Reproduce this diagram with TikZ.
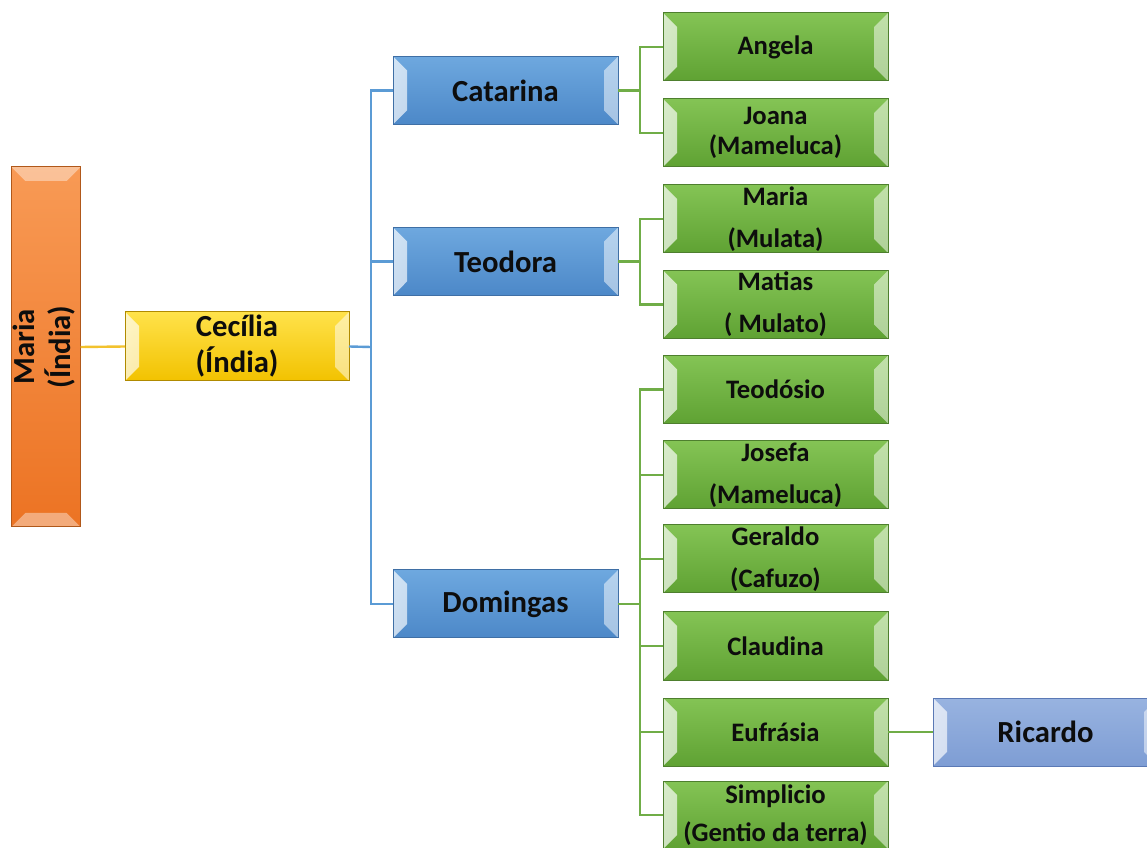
\documentclass[tikz,border=0pt]{standalone}
\usepackage{fontspec}
\setmainfont{Carlito}
\usepackage{graphicx}
\usetikzlibrary{fadings}
\newlength\pxu \setlength\pxu{0.75pt}
\definecolor{bluetop}{HTML}{6EA8DF}
\definecolor{bluebot}{HTML}{4C88C8}
\definecolor{blueln}{HTML}{3F6FA5}
\definecolor{greentop}{HTML}{84C455}
\definecolor{greenbot}{HTML}{5FA233}
\definecolor{greenln}{HTML}{4E7F2E}
\definecolor{yeltop}{HTML}{FFE24A}
\definecolor{yelbot}{HTML}{F2C200}
\definecolor{yelln}{HTML}{B08A00}
\definecolor{ortop}{HTML}{F89A55}
\definecolor{orbot}{HTML}{EC7323}
\definecolor{orln}{HTML}{B0581A}
\definecolor{ricktop}{HTML}{98B3E0}
\definecolor{rickbot}{HTML}{7E9DD4}
\definecolor{rickln}{HTML}{5B79B5}
\definecolor{conyel}{HTML}{F2C22E}
\definecolor{conblue}{HTML}{5B9BD5}
\definecolor{congreen}{HTML}{70AD47}
\definecolor{txt}{HTML}{0D0D0D}
\begin{document}
\begin{tikzpicture}[x=0.75pt,y=-0.75pt,
  hbevel/.style={path picture={
    \fill[white,opacity=0.7,path fading=east] (path picture bounding box.north west) -- ([shift={(14\pxu,-14\pxu)}]path picture bounding box.north west) -- ([shift={(14\pxu,14\pxu)}]path picture bounding box.south west) -- (path picture bounding box.south west) -- cycle;
    \fill[white,opacity=0.5] (path picture bounding box.north east) -- ([shift={(-14\pxu,-14\pxu)}]path picture bounding box.north east) -- ([shift={(-14\pxu,14\pxu)}]path picture bounding box.south east) -- (path picture bounding box.south east) -- cycle;
  }},
  vbevel/.style={path picture={
    \fill[white,opacity=0.4] (path picture bounding box.north west) -- ([shift={(14\pxu,-14\pxu)}]path picture bounding box.north west) -- ([shift={(-14\pxu,-14\pxu)}]path picture bounding box.north east) -- (path picture bounding box.north east) -- cycle;
    \fill[white,opacity=0.4] (path picture bounding box.south west) -- ([shift={(14\pxu,14\pxu)}]path picture bounding box.south west) -- ([shift={(-14\pxu,14\pxu)}]path picture bounding box.south east) -- (path picture bounding box.south east) -- cycle;
  }},
  basebox/.style={rectangle, inner sep=0pt, outer sep=0pt, line width=0.75pt, text=txt, align=center},
  bluebox/.style={basebox, hbevel, draw=blueln, top color=bluetop, bottom color=bluebot,
    minimum width=225\pxu, minimum height=68\pxu, font=\bfseries\fontsize{23}{27}\selectfont},
  greenbox/.style={basebox, hbevel, draw=greenln, top color=greentop, bottom color=greenbot,
    minimum width=225\pxu, minimum height=68\pxu, font=\bfseries\fontsize{20}{31.5}\selectfont},
  tightgreen/.style={font=\bfseries\fontsize{20}{22.5}\selectfont},
  midgreen/.style={font=\bfseries\fontsize{20}{29}\selectfont},
  yelbox/.style={basebox, hbevel, draw=yelln, top color=yeltop, bottom color=yelbot,
    minimum width=224\pxu, minimum height=69\pxu, font=\bfseries\fontsize{23}{27}\selectfont},
  orbox/.style={basebox, vbevel, draw=orln, top color=ortop, bottom color=orbot,
    minimum width=68\pxu, minimum height=360\pxu, font=\bfseries\fontsize{23}{25}\selectfont},
  rickbox/.style={basebox, hbevel, draw=rickln, top color=ricktop, bottom color=rickbot,
    minimum width=225\pxu, minimum height=68\pxu, font=\bfseries\fontsize{23}{27}\selectfont},
  conY/.style={draw=conyel, line width=1.8pt},
  conB/.style={draw=conblue, line width=1.8pt},
  conG/.style={draw=congreen, line width=1.8pt}
]
\clip (0,0) rectangle (1147,848);
\useasboundingbox (0,0) rectangle (1147,848);

% junction points
\coordinate (jc) at (371,347);
\coordinate (j1) at (640,90.5);
\coordinate (j2) at (640,261.5);
\coordinate (j3) at (640,604);

\node[orbox] (maria) at (46,347) {\rotatebox{90}{\begin{tabular}{@{}c@{}}Maria\\(Índia)\end{tabular}}};
\node[yelbox] (cecilia) at (237,346.5) {Cecília\\(Índia)};

\node[bluebox] (catarina) at (505.5,90.5) {Catarina};
\node[bluebox] (teodora) at (505.5,261.5) {Teodora};
\node[bluebox] (domingas) at (505.5,604) {Domingas};

\node[greenbox] (angela) at (775.5,47) {Angela};
\node[greenbox,tightgreen] (joana) at (775.5,133) {Joana\\(Mameluca)};
\node[greenbox] (mariam) at (775.5,219) {Maria\\(Mulata)};
\node[greenbox] (matias) at (775.5,304.5) {Matias\\( Mulato)};
\node[greenbox] (teodosio) at (775.5,389.5) {Teodósio};
\node[greenbox] (josefa) at (775.5,475) {Josefa\\(Mameluca)};
\node[greenbox] (geraldo) at (775.5,559) {Geraldo\\(Cafuzo)};
\node[greenbox] (claudina) at (775.5,646) {Claudina};
\node[greenbox] (eufrasia) at (775.5,732) {Eufrásia};
\node[greenbox,midgreen] (simplicio) at (775.5,815) {Simplicio\\(Gentio da terra)};

\node[rickbox] (ricardo) at (1045.5,732) {Ricardo};

% connectors
\draw[conY] (maria.east) -- (cecilia.west);
\draw[conB] (cecilia.east) -- (jc);
\draw[conB] (jc) |- (catarina.west);
\draw[conB] (jc) |- (teodora.west);
\draw[conB] (jc) |- (domingas.west);
\draw[conG] (catarina.east) -- (j1);
\draw[conG] (j1) |- (angela.west);
\draw[conG] (j1) |- (joana.west);
\draw[conG] (teodora.east) -- (j2);
\draw[conG] (j2) |- (mariam.west);
\draw[conG] (j2) |- (matias.west);
\draw[conG] (domingas.east) -- (j3);
\draw[conG] (j3) |- (teodosio.west);
\draw[conG] (j3) |- (josefa.west);
\draw[conG] (j3) |- (geraldo.west);
\draw[conG] (j3) |- (claudina.west);
\draw[conG] (j3) |- (eufrasia.west);
\draw[conG] (j3) |- (simplicio.west);
\draw[conG] (eufrasia.east) -- (ricardo.west);
\end{tikzpicture}
\end{document}
